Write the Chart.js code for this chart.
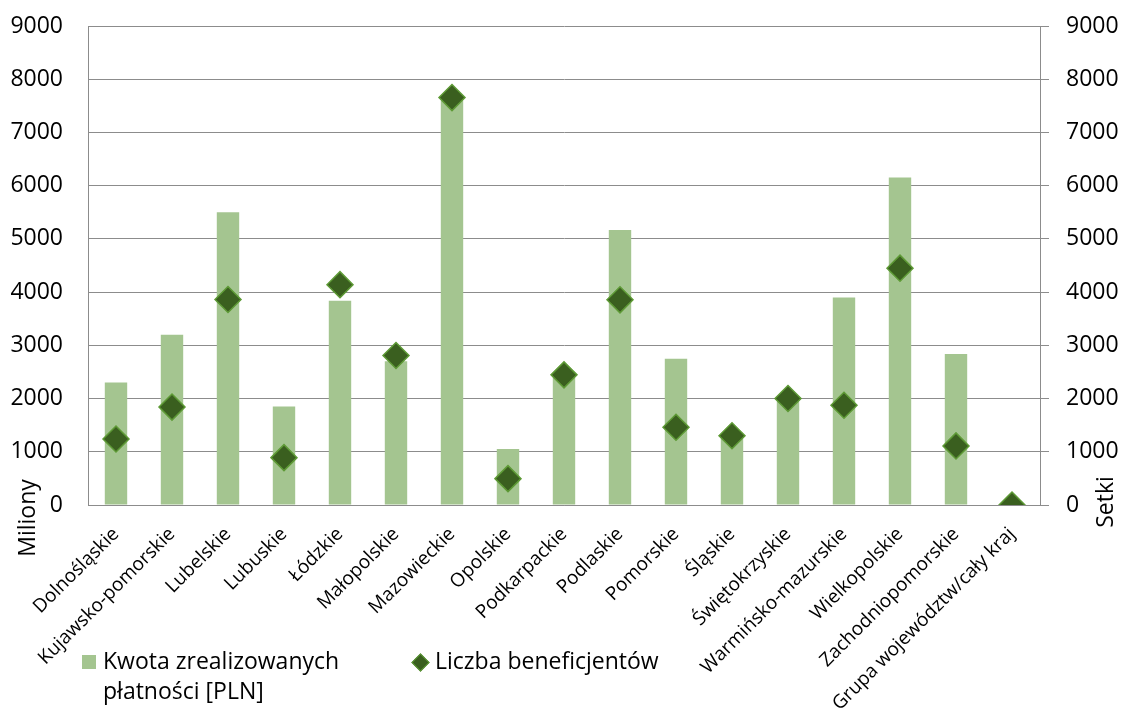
<!DOCTYPE html>
<html>
<head>
<meta charset="utf-8">
<script src="https://cdn.jsdelivr.net/npm/chart.js@4"></script>
<style>
  body { margin: 0; background: #fff; }
  #wrap { position: relative; width: 1123px; height: 709px; font-family: "Open Sans", sans-serif; }
  .lg { position: absolute; font-size: 23px; line-height: 30px; color: #000; }
  .sq { position: absolute; left: 82px; top: 655px; width: 14px; height: 14px; background: #a4c590; }
  .dm { position: absolute; left: 414px; top: 656px; width: 11px; height: 11px; background: #3a5f1f;
        border: 1px solid #5e9a36; transform: rotate(45deg); }
</style>
</head>
<body>
<div id="wrap">
  <canvas id="chart" width="1123" height="709"></canvas>
  <div class="sq"></div>
  <div class="lg" id="lg1" style="left:103px; top:645px;"></div>
  <div class="dm"></div>
  <div class="lg" id="lg2" style="left:435px; top:645px;"></div>
</div>
<script>
// categories (województwa)
const regions = ['Dolnośląskie', 'Kujawsko-pomorskie', 'Lubelskie', 'Lubuskie', 'Łódzkie', 'Małopolskie',
  'Mazowieckie', 'Opolskie', 'Podkarpackie', 'Podlaskie', 'Pomorskie', 'Śląskie', 'Świętokrzyskie',
  'Warmińsko-mazurskie', 'Wielkopolskie', 'Zachodniopomorskie', 'Grupa województw/cały kraj'];

// Kwota zrealizowanych płatności [PLN], miliony
const payments = [2300, 3200, 5500, 1850, 3840, 2700, 7600, 1050, 2400, 5165, 2750, 1250, 1950, 3900, 6155, 2835, 0];
// Liczba beneficjentów, setki
const beneficiaries = [1240, 1840, 3860, 890, 4140, 2810, 7655, 495, 2445, 3855, 1460, 1300, 2000, 1875, 4450, 1110, 0];

const seriesNames = ['Kwota zrealizowanych\npłatności [PLN]', 'Liczba beneficjentów'];
const axisTitles = ['Miliony', 'Setki'];
const yMax = 9000, yStep = 1000;

document.getElementById('lg1').innerHTML = seriesNames[0].replace('\n', '<br>');
document.getElementById('lg2').textContent = seriesNames[1];

const gridColor = '#8c8c8c';
const font = "'Open Sans', sans-serif";

// fixed box sizes so the plot area lands where it is in the original
function fixBox(w, h) {
  return function(scale) {
    if (w) scale.width = w;
    if (h) scale.height = h;
    scale.paddingTop = 0;
    scale.paddingBottom = 0;
    scale.paddingLeft = 0;
    scale.paddingRight = 0;
  };
}

// axis titles sit at the bottom of each y axis, both reading upwards
const axisTitlePlugin = {
  id: 'axisTitles',
  afterDraw(chart) {
    const { ctx, chartArea } = chart;
    ctx.save();
    ctx.font = '23px ' + font;
    ctx.fillStyle = '#000';
    ctx.textAlign = 'center';
    ctx.textBaseline = 'middle';
    ctx.translate(28, chartArea.bottom + 13);
    ctx.rotate(-Math.PI / 2);
    ctx.fillText(axisTitles[0], 0, 0);
    ctx.restore();
    ctx.save();
    ctx.font = '23px ' + font;
    ctx.fillStyle = '#000';
    ctx.textAlign = 'center';
    ctx.textBaseline = 'middle';
    ctx.translate(1106, chartArea.bottom - 3);
    ctx.rotate(-Math.PI / 2);
    ctx.fillText(axisTitles[1], 0, 0);
    ctx.restore();
  }
};

new Chart(document.getElementById('chart'), {
  type: 'bar',
  data: {
    labels: regions,
    datasets: [{
      label: seriesNames[0],
      data: payments,
      backgroundColor: '#a4c590',
      barPercentage: 0.4,
      categoryPercentage: 1,
      yAxisID: 'y',
      order: 1
    }, {
      type: 'line',
      label: seriesNames[1],
      data: beneficiaries,
      showLine: false,
      pointStyle: 'rectRot',
      pointRadius: 13,
      pointBackgroundColor: '#3a5f1f',
      pointBorderColor: '#5e9a36',
      pointBorderWidth: 1.5,
      yAxisID: 'y2',
      order: 0
    }]
  },
  options: {
    responsive: false,
    animation: false,
    layout: { padding: { top: 26, left: 0, right: 0, bottom: 0 } },
    plugins: { legend: { display: false }, tooltip: { enabled: false } },
    scales: {
      x: {
        grid: { display: false, drawTicks: false },
        border: { display: true, color: gridColor },
        ticks: {
          color: '#000',
          font: { family: font, size: 19 },
          minRotation: 45,
          maxRotation: 45,
          autoSkip: false,
          padding: 18
        },
        afterFit: fixBox(0, 204)
      },
      y: {
        position: 'left',
        min: 0,
        max: yMax,
        grid: { color: gridColor, drawTicks: false },
        border: { color: gridColor },
        ticks: { stepSize: yStep, color: '#000', font: { family: font, size: 23 }, padding: 25,
                 callback: v => String(v) },
        afterFit: fixBox(88, 0)
      },
      y2: {
        position: 'right',
        min: 0,
        max: yMax,
        grid: { color: gridColor, drawOnChartArea: false, drawTicks: true, tickLength: 9 },
        border: { color: gridColor },
        ticks: { stepSize: yStep, color: '#000', font: { family: font, size: 23 }, padding: 17,
                 callback: v => String(v) },
        afterFit: fixBox(83, 0)
      }
    }
  },
  plugins: [axisTitlePlugin]
});
</script>
</body>
</html>
